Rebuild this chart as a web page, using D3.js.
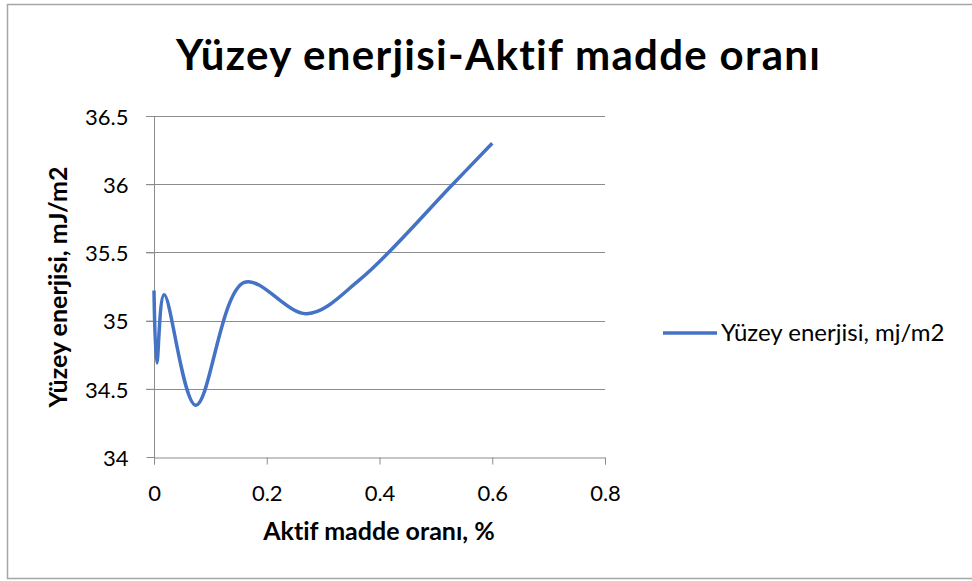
<!DOCTYPE html>
<html>
<head>
<meta charset="utf-8">
<script src="https://cdnjs.cloudflare.com/ajax/libs/d3/7.8.5/d3.min.js"></script>
<style>
  body { margin:0; background:#fff; }
  svg { display:block; font-family: Lato, "Open Sans", sans-serif; font-variant-ligatures: none; }
</style>
</head>
<body>
<div id="chart"></div>
<script>
// data
var xValues = [0, 0.005, 0.018, 0.074, 0.16, 0.271, 0.365, 0.53, 0.6];
var yValues = [35.22, 34.69, 35.19, 34.38, 35.28, 35.05, 35.30, 36.0, 36.30];
var xTicks = [0, 0.2, 0.4, 0.6, 0.8];
var yTicks = [34, 34.5, 35, 35.5, 36, 36.5];
var seriesName = "Yüzey enerjisi, mj/m2";

var width = 972, height = 581;
var margin = {left:154, top:116, right:367, bottom:124};
var drawWidth = width - margin.left - margin.right;
var drawHeight = height - margin.top - margin.bottom;

var data = xValues.map(function(d,i){ return {x:d, y:yValues[i]}; });

var svg = d3.select("#chart").append("svg")
    .attr("width", width)
    .attr("height", height);

// chart frame
svg.append("path")
   .attr("d", "M975,4.5H7.5V578.5H975")
   .attr("fill","none")
   .attr("stroke","#a6a6a6")
   .attr("stroke-width",1.5);

var canvas = svg.append("g")
    .attr("transform","translate("+margin.left+","+margin.top+")");

var x = d3.scaleLinear().domain([0,0.8]).range([0,drawWidth]);
var y = d3.scaleLinear().domain([34,36.5]).range([drawHeight,0]);

// gridlines
canvas.selectAll(".grid")
  .data(yTicks.filter(function(d){return d>34;}))
  .enter().append("line")
  .attr("class","grid")
  .attr("x1",-8).attr("x2",drawWidth)
  .attr("y1",function(d){return Math.round(y(d))+0.5;})
  .attr("y2",function(d){return Math.round(y(d))+0.5;})
  .attr("stroke","#8c8c8c").attr("stroke-width",1);

// axes
var xAxis = canvas.append("g")
  .attr("transform","translate(0,"+(Math.round(drawHeight)+0.5)+")")
  .call(d3.axisBottom(x).tickValues(xTicks).tickSize(7)
        .tickFormat(function(d){return d===0?"0":d3.format(".1f")(d);}));

var yAxis = canvas.append("g")
  .attr("transform","translate(0.5,0)")
  .call(d3.axisLeft(y).tickValues(yTicks).tickSize(8).tickPadding(18)
        .tickFormat(function(d){return d%1===0?String(d):d3.format(".1f")(d);}));

[xAxis, yAxis].forEach(function(a){
  a.select(".domain").attr("stroke","#8c8c8c");
  a.selectAll(".tick line").attr("stroke","#8c8c8c");
  a.selectAll(".tick text").attr("fill","#000").style("font-size","22px")
   .style("font-family","Lato, 'Open Sans', sans-serif");
});
xAxis.selectAll(".tick text").attr("y",43).attr("dy",0);
yAxis.selectAll(".tick text").attr("dy","0.38em");
// y domain extends down to tick length
yAxis.select(".domain").attr("d","M0,0V"+(drawHeight+7));

// the series
canvas.append("path")
  .datum(data)
  .attr("fill","none")
  .attr("stroke","#4472c4")
  .attr("stroke-width",3.5)
  .attr("stroke-linejoin","round")
  .attr("d", d3.line()
      .x(function(d){return x(d.x);})
      .y(function(d){return y(d.y);})
      .curve(d3.curveCatmullRom.alpha(0.5)));

// title
svg.append("text")
  .attr("x",498).attr("y",70)
  .attr("text-anchor","middle")
  .style("font-size","42px").style("font-weight","bold")
  .attr("textLength",644).attr("lengthAdjust","spacing")
  .text("Yüzey enerjisi-Aktif madde oranı");

// axis titles
svg.append("text")
  .attr("x",379).attr("y",540)
  .attr("text-anchor","middle")
  .style("font-size","25px").style("font-weight","bold")
  .text("Aktif madde oranı, %");

svg.append("text")
  .attr("transform","translate(67,287) rotate(-90)")
  .attr("text-anchor","middle")
  .style("font-size","25px").style("font-weight","bold")
  .text("Yüzey enerjisi, mJ/m2");

// legend
var legend = svg.append("g").attr("transform","translate(663,333)");
legend.append("line")
  .attr("x1",0).attr("x2",54).attr("y1",0).attr("y2",0)
  .attr("stroke","#4472c4").attr("stroke-width",3.5);
legend.append("text")
  .attr("x",58).attr("y",8)
  .style("font-size","24px")
  .text(seriesName);
</script>
</body>
</html>
